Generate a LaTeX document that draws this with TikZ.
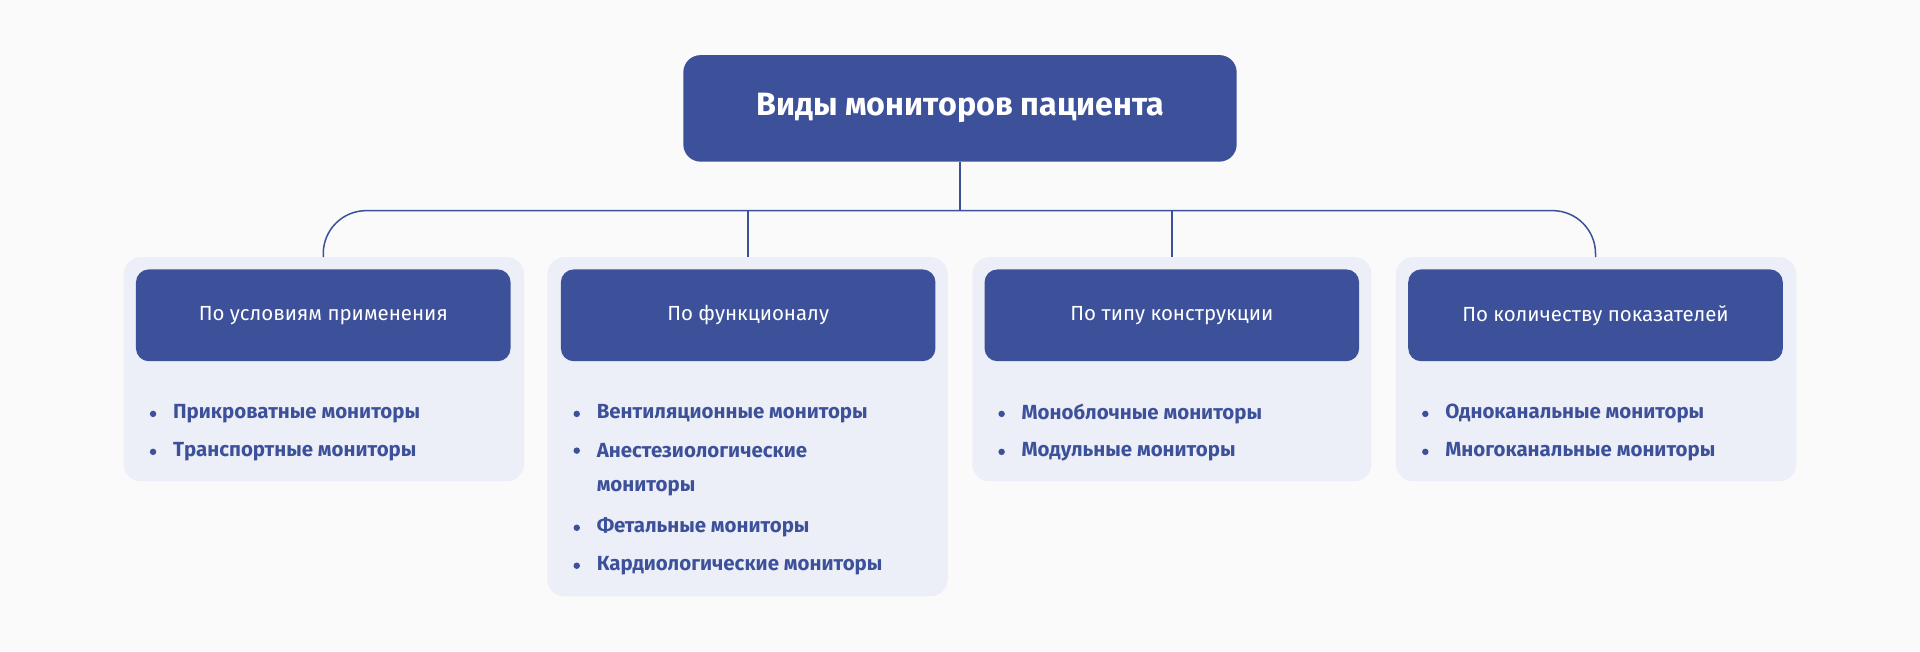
\documentclass[tikz,border=0pt]{standalone}
\usepackage{fontspec}
\setmainfont{Fira Sans}
\usepackage{xcolor}
\definecolor{mainblue}{HTML}{3D519A}
\definecolor{panelgray}{HTML}{ECEFF7}
\definecolor{pagegray}{HTML}{FAFAFA}
\begin{document}
\begin{tikzpicture}[x=0.02cm, y=-0.02cm]
    \tikzstyle{title} = [rectangle, rounded corners=8pt, minimum width=9.04cm, minimum height=1.74cm, fill=mainblue, text=white, font=\fontsize{15}{18}\selectfont\bfseries]
    \tikzstyle{panel} = [rectangle, rounded corners=8pt, fill=panelgray]
    \tikzstyle{group} = [rectangle, rounded corners=6pt, minimum width=6.12cm, minimum height=1.5cm, fill=mainblue, text=white, font=\fontsize{9.5}{12}\selectfont]
    \tikzstyle{item} = [anchor=west, text=mainblue, font=\fontsize{9.5}{12}\selectfont\bfseries, inner sep=0pt]
    \tikzstyle{dot} = [circle, fill=mainblue, inner sep=0pt, minimum size=3pt]
    \tikzstyle{link} = [draw=mainblue, line width=0.7pt]

    \fill [pagegray] (0,0) rectangle (1568,532);

    % Top box
    \node [title] (root) at (784,88.5) {Виды мониторов пациента};

    % Panels
    \fill [panel] (101,210) rectangle (428,393);
    \fill [panel] (447,210) rectangle (774,487);
    \fill [panel] (794,210) rectangle (1120,393);
    \fill [panel] (1140,210) rectangle (1467,393);

    % Headers
    \node [group] (g1) at (264,257.5) {По условиям применения};
    \node [group] (g2) at (611,257.5) {По функционалу};
    \node [group] (g3) at (957,257.5) {По типу конструкции};
    \node [group] (g4) at (1303,257.5) {По количеству показателей};

    % Connectors
    \coordinate (c1) at (264,210);
    \coordinate (c2) at (611,210);
    \coordinate (c3) at (957,210);
    \coordinate (c4) at (1303,210);
    \coordinate (hub) at (784,172);
    \draw [link] (root.south) -- (hub);
    \draw [link, rounded corners=20pt] (c1) |- (hub) -| (c4);
    \draw [link] (c2) -- (c2 |- hub);
    \draw [link] (c3) -- (c3 |- hub);

    % Items
    \foreach \x/\name/\lst in {101/a/{Прикроватные мониторы,Транспортные мониторы},
                               794/c/{Моноблочные мониторы,Модульные мониторы},
                               1140/d/{Одноканальные мониторы,Многоканальные мониторы}} {
        \foreach \t [count=\i] in \lst {
            \node [dot] at (\x+24,307+31*\i) {};
            \node [item] (\name\i) at (\x+40,307+31*\i) {\t};
        }
    }
    \node [dot] at (471,338) {};
    \node [item] (b1) at (487,338) {Вентиляционные мониторы};
    \node [dot] at (471,368) {};
    \node [item] (b2) at (487,368) {Анестезиологические};
    \node [item] (b3) at (487,399) {мониторы};
    \node [dot] at (471,431) {};
    \node [item] (b4) at (487,431) {Фетальные мониторы};
    \node [dot] at (471,462) {};
    \node [item] (b5) at (487,462) {Кардиологические мониторы};
\end{tikzpicture}
\end{document}
